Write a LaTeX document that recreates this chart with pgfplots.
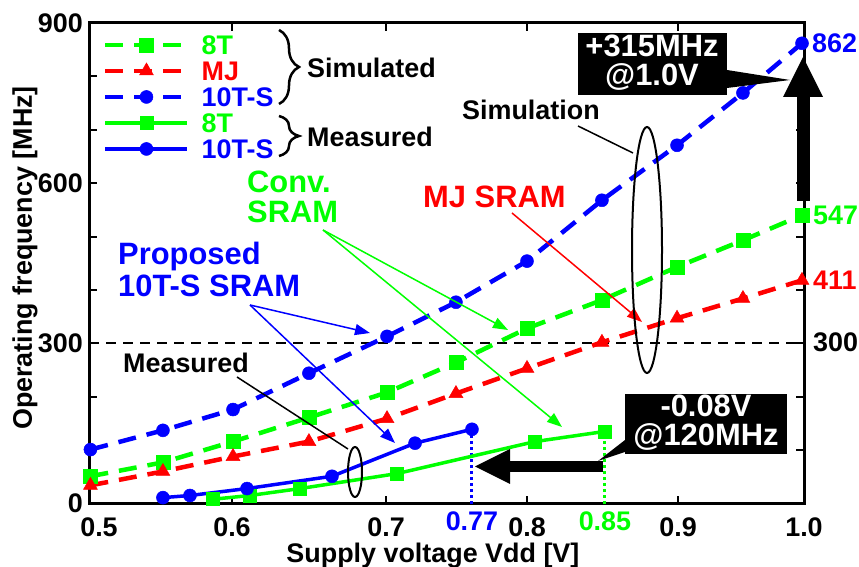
\documentclass[border=0pt]{standalone}
\usepackage{fontspec}
\setmainfont{Liberation Sans}
\usepackage{pgfplots}
\pgfplotsset{compat=1.18}
\usetikzlibrary{calc,arrows.meta,decorations.pathreplacing}
\definecolor{cgreen}{RGB}{0,255,0}
\definecolor{cblue}{RGB}{0,0,255}
\definecolor{cred}{RGB}{255,0,0}
\newcommand{\fA}{\bfseries\fontsize{27}{27}\selectfont}
\newcommand{\fB}{\bfseries\fontsize{31}{32}\selectfont}
\begin{document}
\begin{tikzpicture}
\begin{axis}[
  at={(0,0)}, anchor=south west,
  scale only axis, width=715bp, height=480.5bp,
  xmin=0.5, xmax=1.0, ymin=0, ymax=900,
  clip=false,
  axis line style={line width=3bp},
  every tick/.style={black, line width=2bp},
  major tick length=8bp,
  xtick={0.5,0.6,0.7077,0.8063,0.9119,1.0},
  xticklabels={\hspace*{20bp}0.5,0.6,0.7,0.8,0.9,1.0},
  xticklabel style={font=\fA, inner sep=0pt, anchor=north, yshift=-14bp},
  ytick={0,100,...,900},
  yticklabels={0,,,300,,,600,,,900},
  yticklabel style={font=\fA, inner sep=0pt, anchor=east, xshift=-6bp},
  extra x ticks={0.7678,0.8608},
  extra x tick labels={\textcolor{cblue}{0.77},\textcolor{cgreen}{0.85}},
  extra x tick style={major tick length=0pt, xticklabel style={yshift=6bp}},
  xlabel={Supply voltage Vdd [V]},
  ylabel={Operating frequency [MHz]},
  every axis x label/.style={at={($(rel axis cs:0.481,0)+(0,-59bp)$)}, anchor=base, font=\fA},
  every axis y label/.style={at={($(rel axis cs:0,0.511)+(-57bp,0)$)}, anchor=base, rotate=90, font=\fA},
  legend style={at={(rel axis cs:0.0196,0.975)}, anchor=north west, draw=none, fill=none,
    inner sep=0pt, row sep=6.5bp, column sep=12bp, font=\fA,
    nodes={inner sep=0pt, text height=19.5bp, text depth=0bp}},
  legend cell align=left,
  legend image code/.code={\draw[#1, mark repeat=2, mark phase=2] plot coordinates {(0bp,0bp)(41bp,0bp)(82bp,0bp)};},
]
\addplot[black, line width=2bp, dash pattern=on 10bp off 7bp, forget plot] coordinates {(0.5,300)(1.0,300)};
\addplot[cblue, line width=3bp, dash pattern=on 3bp off 3bp, forget plot] coordinates {(0.7678,0)(0.7678,139)};
\addplot[cgreen, line width=3bp, dash pattern=on 3bp off 3bp, forget plot] coordinates {(0.8608,0)(0.8608,135)};

\addplot[cgreen, line width=4.5bp, dash pattern=on 18bp off 11bp, mark=square*, mark size=7bp, mark options={solid, line width=0.5bp}]
 coordinates {(0.501,51)(0.5517,77)(0.6007,116)(0.6538,161)(0.7084,208)(0.7566,264)(0.8063,328)(0.8587,381)(0.9112,443)(0.9573,493)(0.9986,540)};
\addlegendentry{\textcolor{cgreen}{8T}}
\addplot[cred, line width=4.5bp, dash pattern=on 18bp off 11bp, mark=triangle*, mark size=8bp, mark options={solid, line width=0.5bp}]
 coordinates {(0.501,34)(0.5517,60)(0.6007,88)(0.6538,116)(0.7084,159)(0.7566,206)(0.8063,253)(0.8587,302)(0.9112,347)(0.9573,384)(0.9986,418)};
\addlegendentry{\textcolor{cred}{MJ}}
\addplot[cblue, line width=4.5bp, dash pattern=on 18bp off 11bp, mark=*, mark size=6.5bp, mark options={solid, line width=0.5bp}]
 coordinates {(0.501,101)(0.5517,137)(0.6007,176)(0.6538,244)(0.7084,313)(0.7566,377)(0.8063,454)(0.8587,568)(0.9112,671)(0.9573,769)(0.9986,862)};
\addlegendentry{\textcolor{cblue}{10T-S}}
\addplot[cgreen, line width=3.5bp, mark=square*, mark size=6.5bp, mark options={solid, line width=0.5bp}]
 coordinates {(0.5867,8)(0.6126,15)(0.6476,28)(0.7154,56)(0.8119,116)(0.8608,135)};
\addlegendentry{\textcolor{cgreen}{8T}}
\addplot[cblue, line width=3.5bp, mark=*, mark size=6.5bp, mark options={solid, line width=0.5bp}]
 coordinates {(0.5517,11)(0.5706,15)(0.6105,28)(0.6699,51)(0.7280,113)(0.7678,139)};
\addlegendentry{\textcolor{cblue}{10T-S}}
\end{axis}

\begin{scope}[shift={(-89bp,503.5bp)},x=1bp,y=-1bp]
% right-side value labels
\node[anchor=west, inner sep=0pt, font=\fA, text=cblue] at (812,43) {862};
\node[anchor=west, inner sep=0pt, font=\fA, text=cgreen] at (813,215) {547};
\node[anchor=west, inner sep=0pt, font=\fA, text=cred] at (813,280) {411};
\node[anchor=west, inner sep=0pt, font=\fA] at (813,342) {300};
% legend braces
\draw[line width=2.5bp, decorate, decoration={brace, amplitude=20bp}] (279,30) -- (279,104);
\node[anchor=west, inner sep=0pt, font=\fA] at (307,68) {Simulated};
\draw[line width=2.5bp, decorate, decoration={brace, amplitude=20bp}] (279,116) -- (279,156);
\node[anchor=west, inner sep=0pt, font=\fA] at (307,137) {Measured};
% Conv. SRAM
\node[anchor=base west, inner sep=0pt, font=\fB, text=cgreen] at (247,193) {Conv.};
\node[anchor=base west, inner sep=0pt, font=\fB, text=cgreen] at (247,223) {SRAM};
\draw[cgreen, line width=1.5bp, -{Triangle[length=15bp,width=11bp]}] (323,230) -- (508,330);
\draw[cgreen, line width=1.5bp, -{Triangle[length=15bp,width=11bp]}] (323,230) -- (562,427);
% Proposed
\node[anchor=base west, inner sep=0pt, font=\fB, text=cblue] at (118,265) {Proposed};
\node[anchor=base west, inner sep=0pt, font=\fB, text=cblue] at (118,297) {10T-S SRAM};
\draw[cblue, line width=1.5bp, -{Triangle[length=15bp,width=11bp]}] (250,305) -- (370,333);
\draw[cblue, line width=1.5bp, -{Triangle[length=15bp,width=11bp]}] (250,305) -- (395,443);
% MJ SRAM
\node[anchor=base west, inner sep=0pt, font=\fB, text=cred] at (423,208) {MJ SRAM};
\draw[cred, line width=1.5bp, -{Triangle[length=15bp,width=11bp]}] (512,213) -- (642,322);
% Simulation
\node[anchor=base west, inner sep=0pt, font=\fA] at (462,120) {Simulation};
\draw[line width=1.5bp] (578,126) -- (633,153);
\draw[line width=2bp] (647,250) ellipse [x radius=15, y radius=123];
% Measured
\node[anchor=base west, inner sep=0pt, font=\fA] at (123,373) {Measured};
\draw[line width=1.5bp] (237,377) -- (348,449);
\draw[line width=2bp] (355,472) ellipse [x radius=7, y radius=25];
% +315MHz box and arrow
\fill (578,33) rectangle (727,95);
\node[anchor=base, inner sep=0pt, font=\fB, text=white] at (652,57) {+315MHz};
\node[anchor=base, inner sep=0pt, font=\fB, text=white] at (652,86) {@1.0V};
\fill (727,70) -- (790,80) -- (727,88) -- cycle;
\fill (797,97) rectangle (810,201);
\fill (783,97) -- (823,97) -- (803,57) -- cycle;
% -0.08V box and arrow
\fill (625,394) rectangle (787,454);
\node[anchor=base, inner sep=0pt, font=\fB, text=white] at (706,417) {-0.08V};
\node[anchor=base, inner sep=0pt, font=\fB, text=white] at (706,446) {@120MHz};
\fill (625,440) -- (598,461) -- (625,452) -- cycle;
\fill (510,461) rectangle (603,472);
\fill (510,449) -- (510,484) -- (475,466.5) -- cycle;
\end{scope}

\pgfresetboundingbox
\begin{scope}[shift={(-89bp,503.5bp)},x=1bp,y=-1bp]
\path[use as bounding box] (0,0) rectangle (859,567);
\end{scope}
\end{tikzpicture}
\end{document}
